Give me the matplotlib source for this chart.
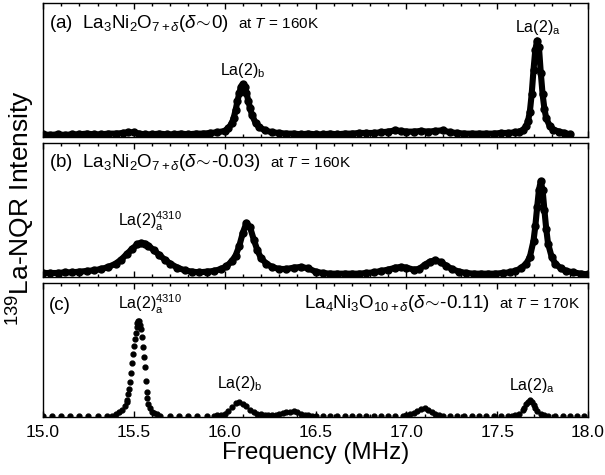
import matplotlib
matplotlib.use('Agg')
import matplotlib.pyplot as plt
from matplotlib.ticker import MultipleLocator

plt.rcParams['font.family'] = ['Liberation Sans', 'DejaVu Sans']
plt.rcParams['mathtext.fontset'] = 'custom'
plt.rcParams['mathtext.rm'] = 'Liberation Sans'
plt.rcParams['mathtext.it'] = 'Liberation Sans:italic'
plt.rcParams['mathtext.bf'] = 'Liberation Sans:bold'

# (a) La3Ni2O7, delta ~ 0, 160 K
freq_a = [15.00, 15.04, 15.08, 15.12, 15.16, 15.20, 15.24, 15.28, 15.32, 15.36,
          15.40, 15.44, 15.47, 15.50, 15.53, 15.56, 15.60, 15.64, 15.68, 15.72,
          15.76, 15.80, 15.84, 15.88, 15.92, 15.96, 16.00, 16.02, 16.04, 16.05,
          16.06, 16.07, 16.08, 16.09, 16.10, 16.11, 16.12, 16.13, 16.14, 16.15,
          16.17, 16.19, 16.22, 16.26, 16.30, 16.34, 16.38, 16.42, 16.46, 16.50,
          16.54, 16.58, 16.62, 16.66, 16.70, 16.74, 16.78, 16.82, 16.86, 16.90,
          16.94, 16.97, 17.00, 17.04, 17.08, 17.12, 17.16, 17.20, 17.24, 17.28,
          17.32, 17.36, 17.40, 17.44, 17.48, 17.52, 17.56, 17.60, 17.62, 17.64,
          17.66, 17.67, 17.68, 17.69, 17.70, 17.71, 17.72, 17.73, 17.74, 17.75,
          17.76, 17.77, 17.79, 17.81, 17.84, 17.87, 17.90]
int_a = [0.020, 0.015, 0.020, 0.015, 0.020, 0.020, 0.025, 0.020, 0.020, 0.025,
         0.025, 0.030, 0.035, 0.035, 0.025, 0.020, 0.020, 0.025, 0.020, 0.020,
         0.025, 0.020, 0.025, 0.025, 0.030, 0.035, 0.045, 0.065, 0.105, 0.145,
         0.200, 0.265, 0.325, 0.375, 0.395, 0.375, 0.330, 0.270, 0.215, 0.165,
         0.105, 0.075, 0.050, 0.035, 0.030, 0.025, 0.025, 0.020, 0.025, 0.020,
         0.020, 0.025, 0.020, 0.025, 0.025, 0.030, 0.030, 0.030, 0.035, 0.040,
         0.050, 0.045, 0.040, 0.040, 0.045, 0.040, 0.045, 0.050, 0.035, 0.030,
         0.025, 0.025, 0.025, 0.025, 0.025, 0.030, 0.030, 0.035, 0.040, 0.050,
         0.080, 0.120, 0.190, 0.320, 0.500, 0.650, 0.720, 0.670, 0.480, 0.320,
         0.210, 0.140, 0.080, 0.055, 0.040, 0.030, 0.020]

# (b) La3Ni2O7, delta ~ -0.03, 160 K
freq_b = [15.00, 15.04, 15.08, 15.12, 15.16, 15.20, 15.24, 15.28, 15.32, 15.36,
          15.40, 15.43, 15.46, 15.49, 15.52, 15.54, 15.56, 15.58, 15.61, 15.64,
          15.67, 15.70, 15.74, 15.78, 15.82, 15.86, 15.90, 15.94, 15.98, 16.01,
          16.04, 16.06, 16.08, 16.10, 16.12, 16.14, 16.16, 16.18, 16.20, 16.23,
          16.26, 16.30, 16.34, 16.38, 16.42, 16.46, 16.50, 16.54, 16.58, 16.62,
          16.66, 16.70, 16.74, 16.78, 16.82, 16.86, 16.90, 16.94, 16.97, 17.00,
          17.04, 17.07, 17.10, 17.13, 17.16, 17.19, 17.22, 17.25, 17.29, 17.33,
          17.37, 17.41, 17.45, 17.49, 17.53, 17.57, 17.60, 17.63, 17.66, 17.68,
          17.70, 17.71, 17.72, 17.73, 17.74, 17.75, 17.76, 17.77, 17.78, 17.80,
          17.82, 17.85, 17.88, 17.92, 17.96, 18.00]
int_b = [0.030, 0.030, 0.030, 0.035, 0.035, 0.040, 0.045, 0.050, 0.060, 0.075,
         0.100, 0.130, 0.170, 0.210, 0.245, 0.255, 0.250, 0.235, 0.200, 0.165,
         0.130, 0.100, 0.070, 0.050, 0.040, 0.035, 0.040, 0.045, 0.060, 0.080,
         0.120, 0.160, 0.230, 0.330, 0.405, 0.370, 0.280, 0.200, 0.140, 0.100,
         0.075, 0.060, 0.060, 0.070, 0.075, 0.065, 0.040, 0.030, 0.025, 0.025,
         0.025, 0.025, 0.025, 0.030, 0.035, 0.045, 0.055, 0.070, 0.075, 0.070,
         0.055, 0.060, 0.090, 0.115, 0.125, 0.110, 0.085, 0.060, 0.040, 0.030,
         0.025, 0.025, 0.025, 0.025, 0.030, 0.035, 0.045, 0.065, 0.100, 0.150,
         0.270, 0.380, 0.520, 0.650, 0.715, 0.650, 0.500, 0.360, 0.250, 0.150,
         0.100, 0.065, 0.045, 0.035, 0.025, 0.020]

# (c) La4Ni3O10, delta ~ -0.11, 170 K
freq_c = [15.00, 15.05, 15.10, 15.15, 15.20, 15.25, 15.30, 15.35,
          15.38, 15.40, 15.42, 15.435, 15.45, 15.46, 15.465, 15.47, 15.475, 15.48,
          15.485, 15.49, 15.495, 15.50, 15.505, 15.51, 15.515, 15.52, 15.525, 15.53,
          15.535, 15.54, 15.545, 15.55, 15.555, 15.56, 15.565, 15.57, 15.575, 15.58,
          15.59, 15.60, 15.61, 15.625, 15.645,
          15.70, 15.75, 15.80, 15.85, 15.90,
          15.94, 15.96, 15.98, 16.00, 16.02, 16.04, 16.06, 16.08, 16.10, 16.12,
          16.14, 16.16, 16.18, 16.20, 16.22, 16.24, 16.26, 16.28, 16.30, 16.32,
          16.34, 16.36, 16.38, 16.40, 16.42, 16.44, 16.46, 16.48, 16.50,
          16.54, 16.58, 16.62, 16.66, 16.70, 16.74, 16.78, 16.82, 16.86, 16.90,
          16.94, 16.98,
          17.00, 17.02, 17.04, 17.06, 17.08, 17.10, 17.12, 17.14, 17.16, 17.18, 17.20,
          17.24, 17.28, 17.32, 17.36, 17.40, 17.44, 17.48, 17.52, 17.56,
          17.58, 17.60, 17.62, 17.64, 17.65, 17.66, 17.67, 17.68, 17.69, 17.70,
          17.71, 17.72, 17.74, 17.76, 17.78,
          17.82, 17.86, 17.90, 17.94, 17.98]
int_c = [0.008, 0.008, 0.008, 0.008, 0.008, 0.008, 0.008, 0.008,
         0.010, 0.025, 0.040, 0.055, 0.080, 0.110, 0.130, 0.170, 0.210, 0.260,
         0.330, 0.400, 0.470, 0.530, 0.580, 0.630, 0.670, 0.700, 0.720, 0.715,
         0.690, 0.660, 0.600, 0.520, 0.450, 0.370, 0.270, 0.190, 0.140, 0.100,
         0.065, 0.040, 0.030, 0.020, 0.010,
         0.008, 0.008, 0.008, 0.008, 0.008,
         0.010, 0.012, 0.015, 0.025, 0.045, 0.075, 0.105, 0.115, 0.100, 0.080,
         0.055, 0.035, 0.025, 0.020, 0.015, 0.015, 0.015, 0.018, 0.022, 0.030,
         0.037, 0.040, 0.042, 0.035, 0.025, 0.018, 0.012, 0.010, 0.008,
         0.008, 0.008, 0.008, 0.008, 0.008, 0.008, 0.008, 0.008, 0.008, 0.008,
         0.008, 0.008,
         0.012, 0.020, 0.030, 0.045, 0.060, 0.065, 0.055, 0.040, 0.025, 0.015, 0.010,
         0.008, 0.008, 0.008, 0.008, 0.008, 0.008, 0.008, 0.008, 0.008,
         0.010, 0.015, 0.025, 0.050, 0.070, 0.095, 0.115, 0.125, 0.115, 0.090,
         0.065, 0.045, 0.025, 0.015, 0.010,
         0.008, 0.008, 0.008, 0.008, 0.008]

x_ticks = [15.0, 15.5, 16.0, 16.5, 17.0, 17.5, 18.0]
x_ticklabels = ['15.0', '15.5', '16.0', '16.5', '17.0', '17.5', '18.0']

fig = plt.figure(figsize=(6.05, 4.75), dpi=100)
left, width, height = 0.0711, 0.9008, 0.2821
ax_a = fig.add_axes([left, 0.7116, width, height])
ax_b = fig.add_axes([left, 0.4168, width, height])
ax_c = fig.add_axes([left, 0.1221, width, height])

for ax, f, y in ((ax_a, freq_a, int_a), (ax_b, freq_b, int_b)):
    ax.plot(f, y, '-', color='k', lw=4.4, marker='o', ms=5,
            solid_joinstyle='round', solid_capstyle='round')
ax_c.plot(freq_c, int_c, 'o', color='k', ms=3.5, mec='k')

for ax in (ax_a, ax_b, ax_c):
    ax.set_xlim(15.0, 18.0)
    ax.set_ylim(0, 1)
    ax.set_yticks([])
    ax.xaxis.set_major_locator(MultipleLocator(0.5))
    ax.xaxis.set_minor_locator(MultipleLocator(0.1))
    ax.tick_params(axis='x', which='both', direction='in', top=True, bottom=True,
                   width=1.0)
    ax.tick_params(axis='x', which='major', length=4)
    ax.tick_params(axis='x', which='minor', length=2.4)
    for s in ax.spines.values():
        s.set_linewidth(1.0)

ax_a.tick_params(labelbottom=False)
ax_b.tick_params(labelbottom=False)
ax_c.set_xticks(x_ticks)
ax_c.set_xticklabels(x_ticklabels, fontsize=12.5)
ax_c.tick_params(axis='x', pad=6)
ax_c.set_xlabel('Frequency (MHz)', fontsize=17.5, labelpad=1)
fig.text(0.034, 0.562, r'$^{139}$La-NQR Intensity', rotation=90, fontsize=19,
         ha='center', va='center')

renderer = fig.canvas.get_renderer()


def after(ax, prev, s, gap_px, size):
    # put s to the right of an existing text, sharing its baseline
    bb = prev.get_window_extent(renderer)
    x = ax.transAxes.inverted().transform((bb.x1 + gap_px, 0))[0]
    y = prev.get_position()[1]
    return ax.text(x, y, s, fontsize=size, ha='left', va='baseline',
                   transform=ax.transAxes)


def before(ax, nxt, s, gap_px, size):
    bb = nxt.get_window_extent(renderer)
    x = ax.transAxes.inverted().transform((bb.x0 - gap_px, 0))[0]
    y = nxt.get_position()[1]
    return ax.text(x, y, s, fontsize=size, ha='right', va='baseline',
                   transform=ax.transAxes)


# panel titles
t = ax_a.text(0.011, 0.817, r'(a)  La$_3$Ni$_2$O$_{7+\delta}$($\delta\!\sim\!$0)',
              fontsize=13.5, ha='left', va='baseline', transform=ax_a.transAxes)
after(ax_a, t, r'at $T$ = 160K', 9, 11)
t = ax_b.text(0.011, 0.823, r'(b)  La$_3$Ni$_2$O$_{7+\delta}$($\delta\!\sim\!$-0.03)',
              fontsize=13.5, ha='left', va='baseline', transform=ax_b.transAxes)
after(ax_b, t, r'at $T$ = 160K', 9, 11)
ax_c.text(0.011, 0.80, '(c)', fontsize=13.5, ha='left', va='baseline',
          transform=ax_c.transAxes)
t = ax_c.text(0.985, 0.81, r'at $T$ = 170K', fontsize=11, ha='right',
              va='baseline', transform=ax_c.transAxes)
before(ax_c, t, r'La$_4$Ni$_3$O$_{10+\delta}$($\delta\!\sim\!$-0.11)', 9, 13.5)

# peak labels
ax_a.text(16.10, 0.463, r'La(2)$_\mathrm{b}$', fontsize=11.5, ha='center', va='baseline')
ax_a.text(17.725, 0.786, r'La(2)$_\mathrm{a}$', fontsize=11.5, ha='center', va='baseline')
ax_b.text(15.589, 0.375, r'La(2)$_\mathrm{a}^\mathrm{4310}$', fontsize=11.5,
          ha='center', va='baseline')
ax_c.text(15.589, 0.80, r'La(2)$_\mathrm{a}^\mathrm{4310}$', fontsize=11.5,
          ha='center', va='baseline')
ax_c.text(16.085, 0.214, r'La(2)$_\mathrm{b}$', fontsize=11.5, ha='center', va='baseline')
ax_c.text(17.69, 0.20, r'La(2)$_\mathrm{a}$', fontsize=11.5, ha='center', va='baseline')

fig.savefig('out.png', dpi=100)
